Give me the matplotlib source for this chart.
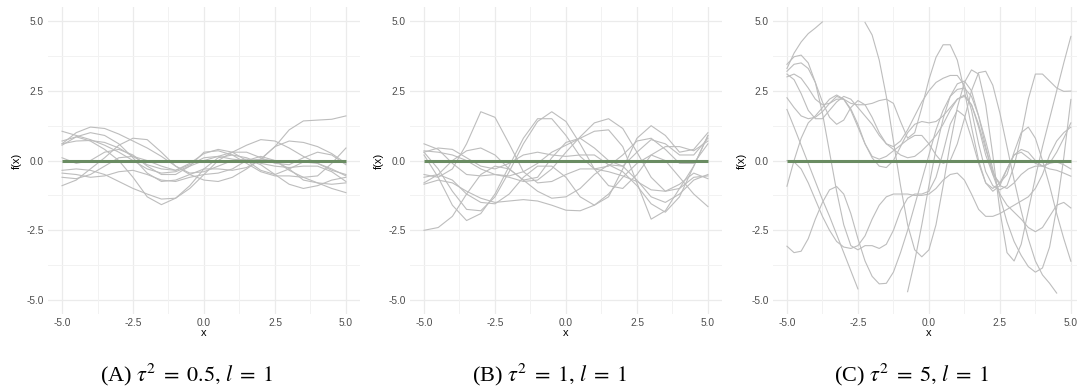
import numpy as np
import matplotlib
matplotlib.use("Agg")
import matplotlib.pyplot as plt

nan = np.nan

# sample locations
x_coarse = np.linspace(-5, 5, 21)   # step 0.5
x_fine = np.linspace(-5, 5, 41)     # step 0.25

# tau^2 = 0.5, l = 1  (values at x_coarse)
draws_a = [
    [1.05, 0.9, 0.75, 0.55, 0.3, 0.0, -0.3, -0.45, -0.4, -0.2, 0.0, 0.15, 0.3, 0.55, 0.75, 0.7, 0.45, 0.15, -0.1, -0.3, -0.55],
    [0.6, 1.0, 1.2, 1.15, 0.95, 0.7, 0.45, 0.15, -0.2, -0.5, -0.7, -0.75, -0.6, -0.3, 0.05, 0.5, 0.7, 0.65, 0.5, 0.25, -0.1],
    [0.55, 0.85, 1.0, 0.9, 0.6, 0.1, -0.45, -0.75, -0.7, -0.5, -0.3, -0.3, -0.35, -0.25, 0.05, 0.5, 1.1, 1.42, 1.45, 1.48, 1.6],
    [0.7, 0.85, 0.7, 0.4, 0.0, -0.6, -1.3, -1.58, -1.35, -0.9, -0.3, 0.1, 0.2, 0.1, -0.1, -0.2, -0.25, -0.2, -0.2, -0.4, -0.75],
    [-0.9, -0.7, -0.3, 0.1, 0.55, 0.8, 0.75, 0.3, -0.2, -0.45, -0.4, -0.2, 0.0, 0.05, -0.15, -0.5, -0.85, -1.0, -0.9, -0.7, -0.6],
    [-0.35, -0.3, -0.35, -0.5, -0.75, -1.0, -1.2, -1.38, -1.35, -1.0, -0.5, 0.0, 0.3, 0.3, 0.1, -0.1, -0.15, 0.1, 0.3, 0.2, -0.15],
    [0.1, -0.1, 0.0, 0.3, 0.4, 0.2, -0.2, -0.5, -0.5, -0.2, 0.3, 0.35, 0.2, -0.1, -0.4, -0.55, -0.55, -0.6, -0.8, -1.0, -1.15],
    [-0.6, -0.65, -0.5, -0.2, 0.1, 0.15, 0.0, -0.2, -0.35, -0.1, 0.25, 0.4, 0.3, 0.0, -0.35, -0.5, -0.3, -0.05, -0.1, -0.35, -0.5],
    [-0.45, -0.5, -0.6, -0.55, -0.4, -0.35, -0.5, -0.7, -0.75, -0.6, -0.5, -0.45, -0.3, 0.0, 0.15, 0.0, -0.35, -0.6, -0.55, -0.1, 0.45],
    [0.6, 0.7, 0.72, 0.65, 0.45, 0.15, -0.15, -0.3, -0.35, -0.15, 0.1, 0.15, 0.05, 0.0, 0.05, 0.0, -0.3, -0.7, -0.8, -0.85, -0.8],
]

# tau^2 = 1, l = 1  (values at x_coarse)
draws_b = [
    [-2.5, -2.4, -2.0, -1.2, -0.5, -0.2, -0.3, -0.7, -1.1, -1.35, -1.3, -1.0, -0.5, -0.15, -0.2, -0.7, -1.3, -1.5, -1.2, -0.7, -0.5],
    [-0.5, -0.6, -0.3, 0.6, 1.75, 1.55, 0.6, -0.4, -0.8, -0.75, -0.5, -0.3, -0.3, -0.4, -0.55, -0.75, -1.05, -1.1, -0.85, -0.45, -0.65],
    [0.3, -0.3, -1.1, -1.75, -1.8, -1.3, -0.4, 0.6, 1.4, 1.75, 1.4, 0.6, -0.3, -0.9, -1.0, -0.5, 0.2, 0.5, 0.5, 0.35, 0.7],
    [0.2, -0.6, -1.6, -2.15, -1.9, -1.2, -0.2, 0.8, 1.5, 1.5, 0.9, 0.15, -0.3, -0.2, 0.2, 0.7, 0.8, 0.4, -0.1, -0.1, 0.6],
    [-0.85, -0.7, -0.8, -1.1, -1.35, -1.5, -1.45, -1.4, -1.45, -1.6, -1.78, -1.8, -1.6, -1.2, -0.6, -0.1, 0.2, 0.0, -0.6, -1.2, -1.65],
    [0.6, 0.4, -0.1, -0.5, -0.55, -0.5, -0.6, -0.75, -0.7, -0.3, 0.3, 0.85, 1.35, 1.5, 1.15, 0.3, -0.6, -1.1, -1.0, -0.2, 0.9],
    [-0.6, -0.5, -0.7, -1.2, -1.5, -1.55, -1.2, -0.6, -0.2, -0.2, -0.6, -1.3, -1.6, -1.3, -0.3, 0.8, 1.25, 0.9, 0.3, 0.4, 1.0],
    [0.35, 0.3, 0.2, 0.0, -0.3, -0.5, -0.55, -0.4, -0.1, 0.3, 0.55, 0.8, 1.05, 1.1, 0.5, -0.8, -2.1, -1.8, -1.0, -0.6, -0.55],
    [-0.8, -0.5, 0.0, 0.35, 0.45, 0.2, -0.3, -0.7, -0.6, 0.1, 0.65, 0.8, 0.45, 0.0, -0.2, 0.3, 0.75, 0.6, 0.2, 0.2, 0.8],
    [0.3, 0.45, 0.4, 0.1, -0.2, -0.3, -0.1, 0.2, 0.3, 0.2, 0.15, 0.2, 0.2, -0.15, -0.4, -0.9, -1.55, -1.85, -1.3, -0.2, 0.9],
]

# tau^2 = 5, l = 1  (values at x_fine, nan where the draw leaves [-5, 5])
draws_c = [
    [3.3, 3.85, 4.25, 4.55, 4.75, 4.97, nan, nan, nan, nan, nan, 4.95, 4.5, 3.6, 2.3, 0.7, -0.9, -2.3, -3.2, -3.45,
     -3.2, -2.3, -0.9, 0.6, 1.9, 2.8, 3.25, 3.1, 2.0, 0.2, -1.8, -3.3, -3.6, -3.0, -1.8, -0.6, 0.5, 1.5, 2.5, 3.5, 4.45],
    [1.83, 1.2, 0.55, -0.1, -0.75, -1.4, -2.0, -2.65, -3.3, -3.95, -4.6, nan, nan, nan, nan, nan, nan, -4.7, -3.6, -2.3,
     -0.9, 0.4, 1.5, 2.3, 2.75, 2.85, 2.5, 1.6, 0.5, -0.5, -1.2, -1.6, -1.85, -2.1, -2.4, -2.55, -2.4, -2.0, -1.6, -1.5, -1.7],
    [3.45, 3.72, 3.78, 3.5, 2.8, 1.7, 0.3, -1.1, -2.3, -3.05, -3.2, -3.05, -3.05, -3.15, -3.0, -2.5, -1.8, -1.35, -1.2, -1.2,
     -1.1, -0.6, 0.3, 1.3, 1.8, 1.6, 0.8, -0.1, -0.8, -1.0, -0.8, -0.3, 0.2, 0.4, 0.3, 0.0, -0.2, -0.3, -0.35, -0.45, -0.56],
    [3.2, 3.45, 3.5, 3.3, 2.8, 2.1, 1.55, 1.3, 1.45, 1.9, 2.15, 2.0, 1.55, 1.0, 0.6, 0.5, 0.7, 1.1, 1.6, 2.1,
     2.5, 2.8, 2.95, 3.05, 3.05, 2.7, 1.8, 0.6, -0.4, -0.9, -1.05, -0.9, -0.2, 0.9, 2.2, 3.1, 3.1, 2.85, 2.6, 2.48, 2.49],
    [2.25, 1.9, 1.6, 1.5, 1.55, 1.75, 2.05, 2.3, 2.2, 1.85, 1.3, 0.6, 0.15, 0.05, 0.15, 0.35, 0.55, 0.75, 0.9, 0.9,
     0.6, 0.2, -0.1, 0.0, 0.6, 1.5, 2.5, 3.15, 3.2, 2.7, 1.7, 0.5, -0.7, -1.8, -2.8, -3.6, -4.1, -4.4, -4.75, nan, nan],
    [3.0, 3.1, 2.95, 2.6, 2.2, 2.0, 2.05, 2.2, 2.2, 2.05, 2.0, 2.0, 2.05, 2.15, 2.2, 2.05, 1.4, 0.8, 1.0, 1.9,
     2.9, 3.7, 4.15, 4.15, 3.6, 2.5, 1.2, 0.0, -0.8, -1.1, -0.9, -0.3, 0.2, 0.3, 0.1, -0.1, -0.2, -0.1, 0.3, 0.8, 1.35],
    [0.0, -0.05, -0.3, -0.8, -1.4, -2.0, -2.5, -2.9, -3.1, -3.15, -3.05, -2.7, -2.1, -1.6, -1.3, -1.2, -1.2, -1.2, -1.25, -1.25,
     -1.2, -1.0, -0.7, -0.5, -0.45, -0.7, -1.2, -1.75, -2.0, -2.0, -1.9, -1.75, -1.6, -1.45, -1.3, -1.0, -0.5, 0.2, 0.7, 1.0, 1.2],
    [-0.92, 0.0, 0.8, 1.35, 1.6, 1.9, 2.2, 2.35, 2.2, 1.8, 1.2, 0.6, 0.1, -0.2, -0.25, 0.0, 0.5, 1.0, 1.3, 1.4,
     1.35, 1.4, 1.6, 1.9, 2.2, 2.35, 2.0, 1.2, 0.2, -0.5, -0.8, -0.5, 0.3, 1.0, 1.2, 0.8, 0.0, -0.9, -1.9, -2.8, -3.61],
    [-3.07, -3.3, -3.25, -2.8, -2.1, -1.5, -1.05, -0.93, -1.2, -1.9, -2.8, -3.6, -4.15, -4.42, -4.4, -4.0, -3.3, -2.5, -1.6, -0.7,
     0.2, 1.1, 1.8, 2.3, 2.55, 2.6, 2.3, 1.6, 0.7, -0.3, -1.3, -2.2, -2.9, -3.4, -3.8, -4.0, -3.85, -3.1, -1.7, 0.1, 2.19],
    [3.1, 2.9, 2.4, 1.8, 1.5, 1.5, 1.8, 2.1, 2.3, 2.2, 1.9, 1.6, 1.3, 0.9, 0.6, 0.4, 0.2, 0.1, 0.15, 0.35,
     0.6, 0.9, 1.3, 1.8, 2.2, 2.3, 2.0, 1.3, 0.4, -0.4, -0.9, -1.0, -0.8, -0.5, -0.3, -0.2, -0.2, -0.1, -0.05, -0.15, -0.3],
]

captions = [
    r"(A) $\tau^2\;=\;0.5,\, l\;=\;1$",
    r"(B) $\tau^2\;=\;1,\, l\;=\;1$",
    r"(C) $\tau^2\;=\;5,\, l\;=\;1$",
]

panels = [
    (x_coarse, draws_a, captions[0], 0.0444, 187),
    (x_coarse, draws_b, captions[1], 0.3805, 550),
    (x_fine, draws_c, captions[2], 0.7175, 912),
]

plt.rcParams["font.family"] = ["Liberation Sans", "DejaVu Sans"]
plt.rcParams["mathtext.fontset"] = "stix"

W, H = 1077, 388
fig = plt.figure(figsize=(W / 100, H / 100), dpi=100)

ticks = [-5.0, -2.5, 0.0, 2.5, 5.0]
tick_labels = ["-5.0", "-2.5", "0.0", "2.5", "5.0"]
minor = [-3.75, -1.25, 1.25, 3.75]
serif = ["Liberation Serif", "DejaVu Serif"]

for xs, draws, caption, left, cap_x in panels:
    ax = fig.add_axes([left, 0.1907, 0.290, 0.791])
    ax.set_xlim(-5.5, 5.5)
    ax.set_ylim(-5.5, 5.5)
    for s in ax.spines.values():
        s.set_visible(False)

    for t in ticks:
        ax.axvline(t, color="#ebebeb", lw=0.9, zorder=0)
        ax.axhline(t, color="#ebebeb", lw=0.9, zorder=0)
    for t in minor:
        ax.axvline(t, color="#f2f2f2", lw=0.7, zorder=0)
        ax.axhline(t, color="#f2f2f2", lw=0.7, zorder=0)

    for d in draws:
        y = np.array(d, dtype=float)
        y[(y > 5) | (y < -5)] = nan
        ax.plot(xs, y, color="#bdbdbd", lw=0.8, zorder=2)

    # mean function
    ax.plot([-5, 5], [0, 0], color="#6a8c62", lw=2.2, zorder=3, solid_capstyle="butt")

    ax.set_xticks(ticks)
    ax.set_xticklabels(tick_labels)
    ax.set_yticks(ticks)
    ax.set_yticklabels(tick_labels)
    ax.tick_params(length=0, labelsize=7.3, labelcolor="#4d4d4d", pad=3)
    ax.set_xlabel("x", fontsize=8, labelpad=0)
    ax.set_ylabel("f(x)", fontsize=8, labelpad=3)

    fig.text(cap_x / W, 1 - 381 / H, caption, ha="center", va="baseline",
             fontsize=16, family=serif)

fig.savefig("out.png", dpi=100)
